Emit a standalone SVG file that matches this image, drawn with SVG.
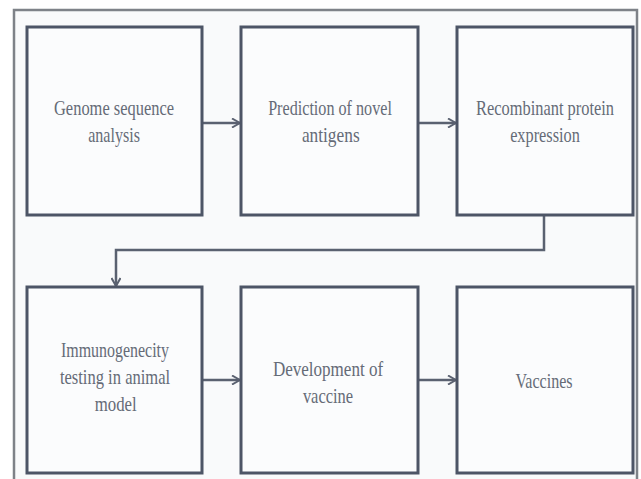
<svg xmlns="http://www.w3.org/2000/svg" width="641" height="479" viewBox="0 0 641 479">
<defs>
<style>
.box{fill:#fbfcfd;stroke:#4d5566;stroke-width:3}
.lbl{font-family:"Liberation Serif","DejaVu Serif",serif;font-size:22px;fill:#656b77;text-anchor:middle}
.con{fill:none;stroke:#5a6170;stroke-width:2.5}
</style>
<marker id="ah" viewBox="0 0 10 10" refX="9" refY="5" markerWidth="10" markerHeight="10" markerUnits="userSpaceOnUse" orient="auto">
<path d="M1,0.5 L9,5 L1,9.5" fill="none" stroke="#5a6170" stroke-width="2"/>
</marker>
</defs>
<rect x="0" y="0" width="641" height="479" fill="#ffffff"/>
<rect x="14" y="10" width="623" height="480" fill="#f9fafb" stroke="#7e8288" stroke-width="2.5"/>
<g id="connectors">
<line class="con" x1="203" y1="123" x2="240" y2="123" marker-end="url(#ah)"/>
<line class="con" x1="419" y1="123" x2="456" y2="123" marker-end="url(#ah)"/>
<path class="con" d="M544,216 V250 H116 V286" marker-end="url(#ah)"/>
<line class="con" x1="203" y1="380" x2="240" y2="380" marker-end="url(#ah)"/>
<line class="con" x1="419" y1="380" x2="456" y2="380" marker-end="url(#ah)"/>
</g>
<g id="n1">
<rect class="box" x="27" y="27" width="175" height="188"/>
<g transform="translate(114,0) scale(0.75,1)">
<text class="lbl" x="0" y="115" textLength="160" lengthAdjust="spacingAndGlyphs">Genome sequence</text>
<text class="lbl" x="0" y="142" textLength="69" lengthAdjust="spacingAndGlyphs">analysis</text>
</g>
</g>
<g id="n2">
<rect class="box" x="241" y="27" width="177" height="188"/>
<g transform="translate(330,0) scale(0.75,1)">
<text class="lbl" x="0" y="115" textLength="165" lengthAdjust="spacingAndGlyphs">Prediction of novel</text>
<text class="lbl" x="1" y="142" textLength="77" lengthAdjust="spacingAndGlyphs">antigens</text>
</g>
</g>
<g id="n3">
<rect class="box" x="457" y="27" width="176" height="188"/>
<g transform="translate(545,0) scale(0.75,1)">
<text class="lbl" x="0" y="115" textLength="184" lengthAdjust="spacingAndGlyphs">Recombinant protein</text>
<text class="lbl" x="0" y="142" textLength="93" lengthAdjust="spacingAndGlyphs">expression</text>
</g>
</g>
<g id="n4">
<rect class="box" x="27" y="287" width="175" height="186"/>
<g transform="translate(115,0) scale(0.75,1)">
<text class="lbl" x="0" y="357" textLength="144" lengthAdjust="spacingAndGlyphs">Immunogenecity</text>
<text class="lbl" x="0" y="384" textLength="147" lengthAdjust="spacingAndGlyphs">testing in animal</text>
<text class="lbl" x="1" y="411" textLength="56" lengthAdjust="spacingAndGlyphs">model</text>
</g>
</g>
<g id="n5">
<rect class="box" x="241" y="287" width="177" height="186"/>
<g transform="translate(328,0) scale(0.75,1)">
<text class="lbl" x="0" y="376" textLength="147" lengthAdjust="spacingAndGlyphs">Development of</text>
<text class="lbl" x="0" y="403" textLength="67" lengthAdjust="spacingAndGlyphs">vaccine</text>
</g>
</g>
<g id="n6">
<rect class="box" x="457" y="287" width="176" height="186"/>
<g transform="translate(544,0) scale(0.75,1)">
<text class="lbl" x="0" y="388" textLength="76" lengthAdjust="spacingAndGlyphs">Vaccines</text>
</g>
</g>
</svg>
